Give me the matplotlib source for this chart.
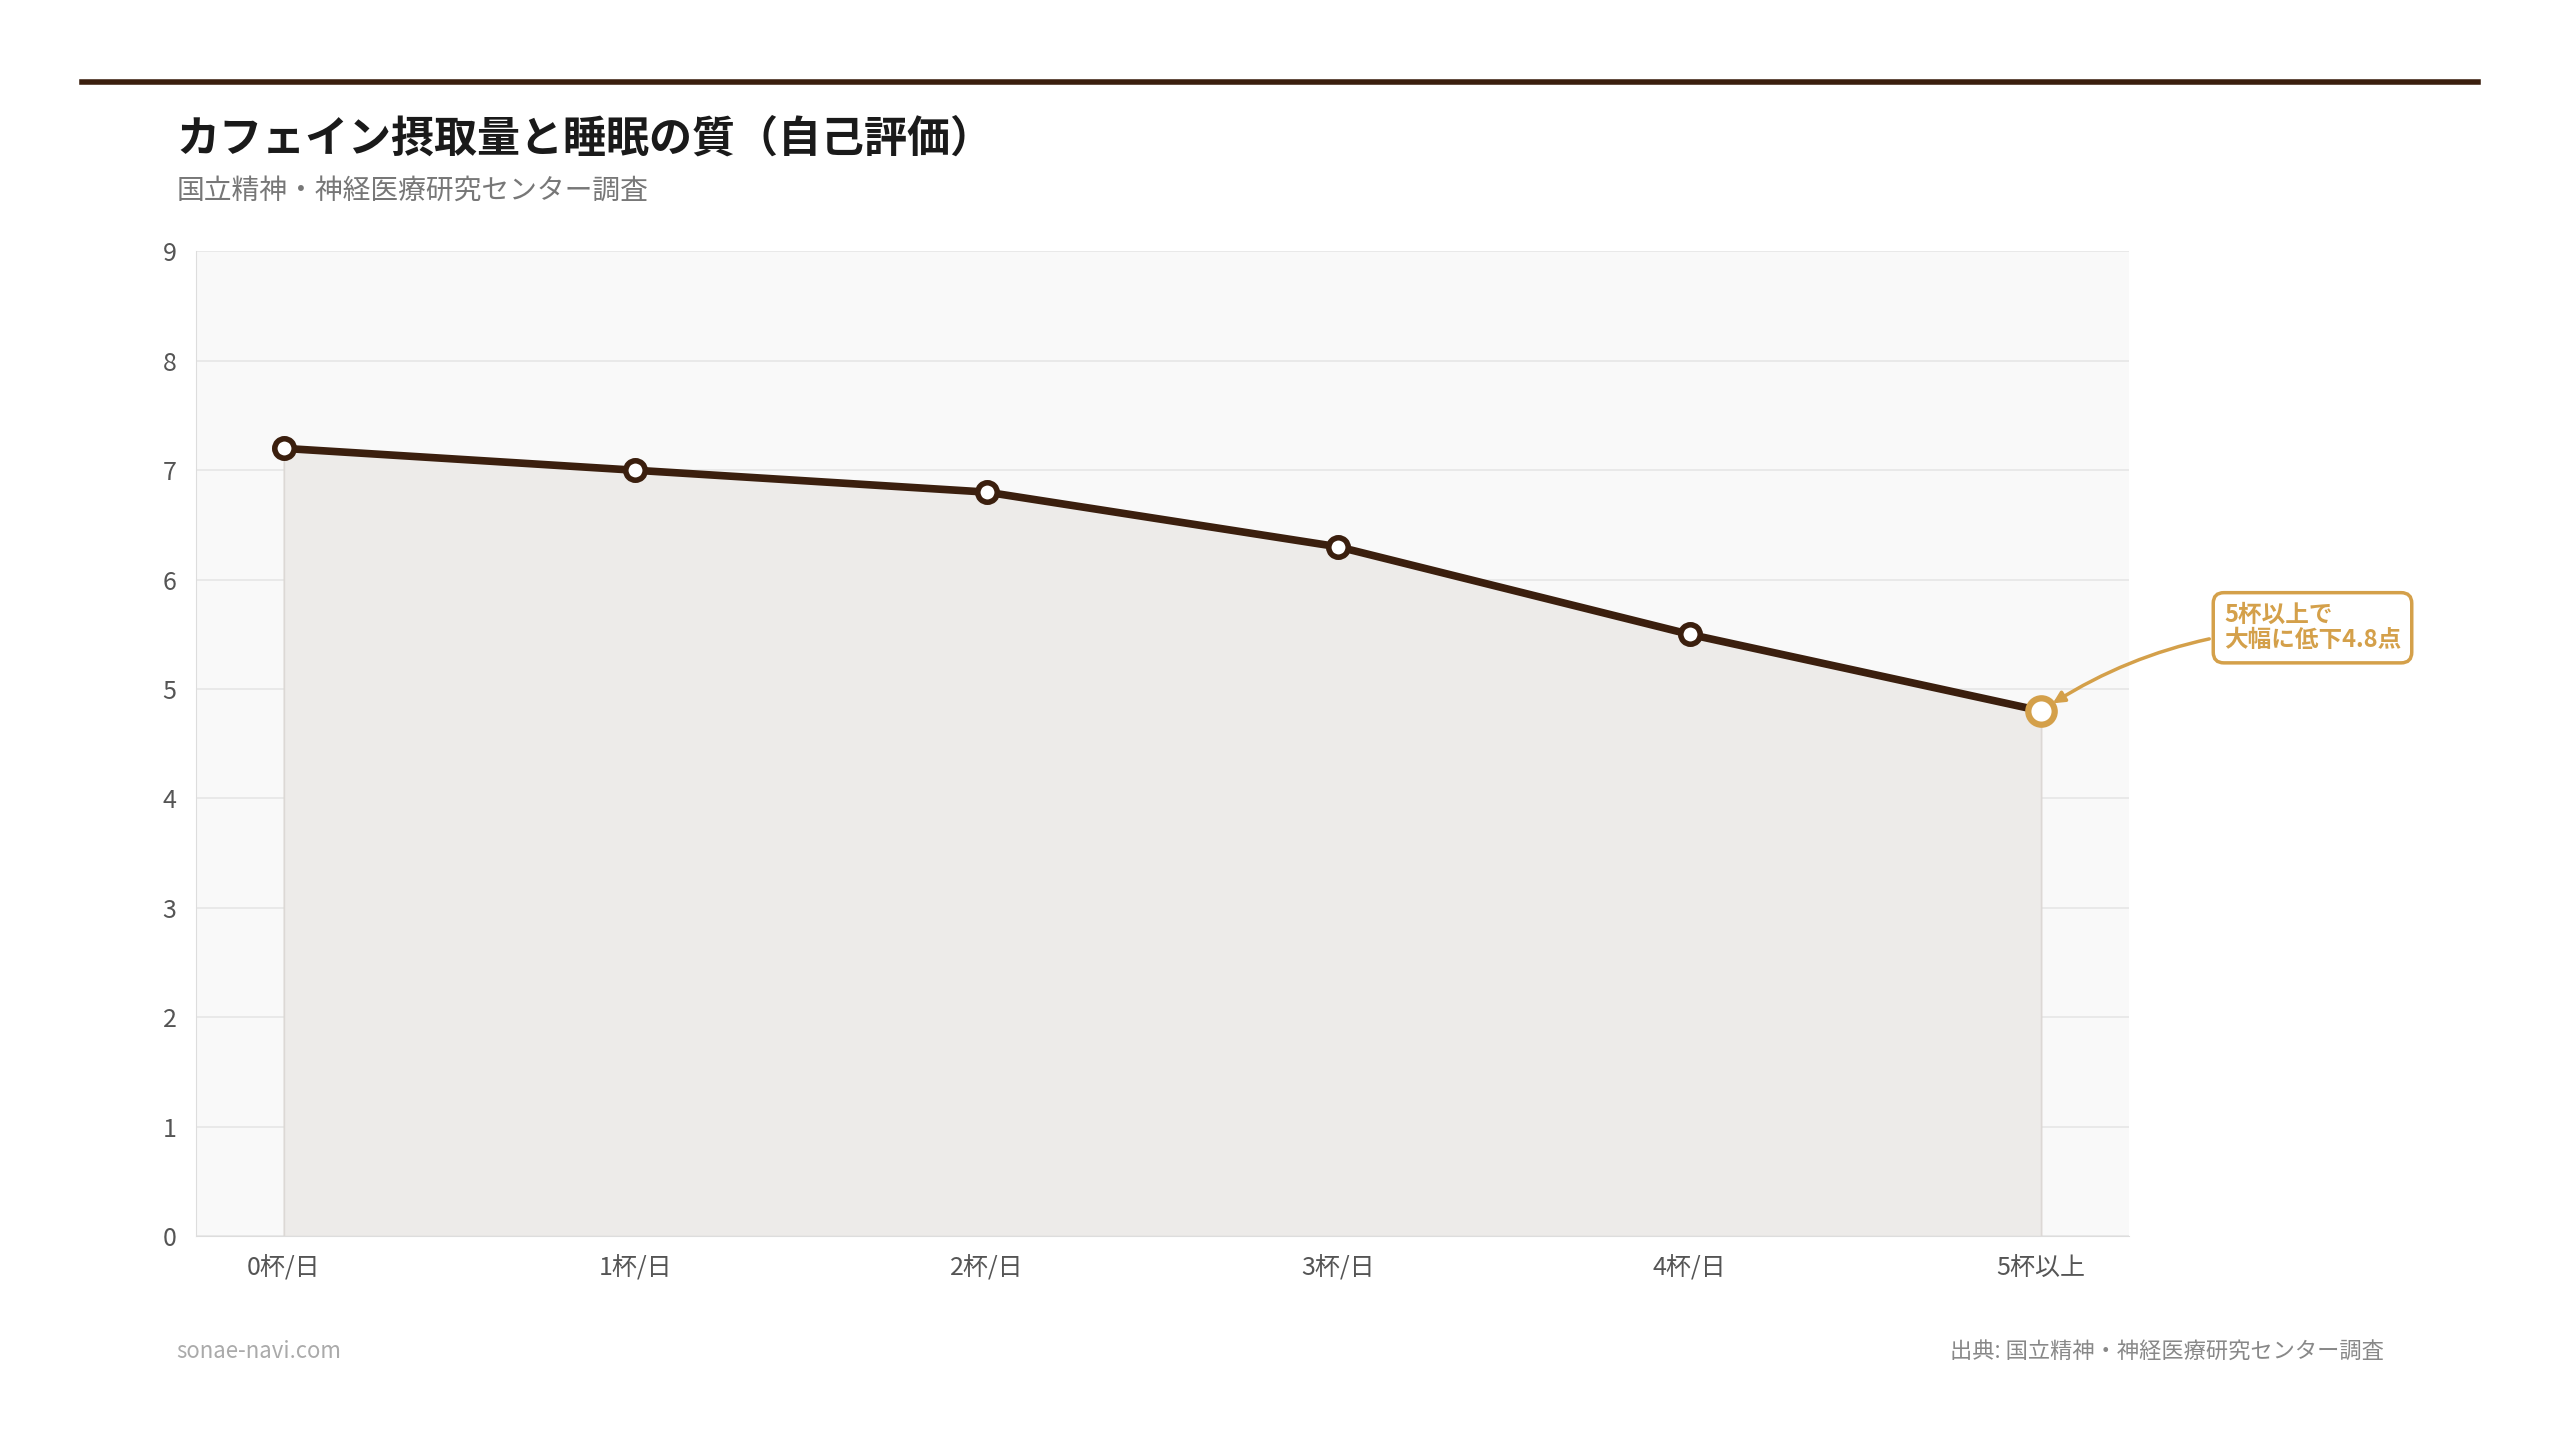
import matplotlib
matplotlib.use("Agg")
import matplotlib.pyplot as plt

plt.rcParams['font.family'] = ['Noto Sans CJK JP', 'DejaVu Sans']

categories = ["0杯/日", "1杯/日", "2杯/日", "3杯/日", "4杯/日", "5杯以上"]
values = [7.2, 7.0, 6.8, 6.3, 5.5, 4.8]
yticks = list(range(0, 10))

DARK = "#3b1f0e"
GOLD = "#d4a04a"

fig = plt.figure(figsize=(25.6, 14.45), dpi=100)
W, H = 1568, 885
def fx(x): return x / W
def fy(y): return 1 - y / H

fig.add_artist(plt.Line2D([fx(50), fx(1518)], [fy(50), fy(50)], color=DARK, lw=4))
fig.text(fx(108), fy(85), "カフェイン摂取量と睡眠の質（自己評価）", fontsize=31, fontweight='bold',
         color="#1a1a1a", va='center')
fig.text(fx(108), fy(117), "国立精神・神経医療研究センター調査", fontsize=20, color="#777777", va='center')
fig.text(fx(108), fy(828), "sonae-navi.com", fontsize=16, color="#aaaaaa", va='center')
fig.text(fx(1460), fy(828), "出典: 国立精神・神経医療研究センター調査", fontsize=16, color="#888888",
         va='center', ha='right')

ax = fig.add_axes([fx(120), fy(757), fx(1304) - fx(120), fy(154) - fy(757)])
ax.set_facecolor("#f9f9f9")
x = list(range(len(categories)))
ax.set_xlim(-0.25, 5.25)
ax.set_ylim(0, 9)
ax.set_yticks(yticks)
ax.set_xticks(x)
ax.set_xticklabels(categories)
ax.grid(axis='y', color="#e6e6e6", lw=1.2)
ax.set_axisbelow(True)
for s in ['top', 'right']:
    ax.spines[s].set_visible(False)
for s in ['left', 'bottom']:
    ax.spines[s].set_color("#dddddd")
ax.tick_params(axis='both', length=0, labelsize=18, colors="#555555", pad=14)

ax.fill_between(x, values, 0, color="#edebe9", edgecolor="#dcd8d5", lw=1, zorder=1)
ax.vlines([x[0], x[-1]], 0, [values[0], values[-1]], color="#dcd8d5", lw=1, zorder=1)
ax.plot(x, values, color=DARK, lw=5.5, zorder=3)
ax.plot(x[:-1], values[:-1], 'o', ms=14, mfc='white', mec=DARK, mew=4, zorder=4)
ax.plot(x[-1], values[-1], 'o', ms=19, mfc='white', mec=GOLD, mew=4.5, zorder=5)

ax.annotate("5杯以上で\n大幅に低下4.8点", xy=(x[-1], values[-1]), xytext=(5.52, 5.56),
            fontsize=17, fontweight='bold', color=GOLD, ha='left', va='center',
            linespacing=1.05, annotation_clip=False,
            bbox=dict(boxstyle="round,pad=0.45", fc="white", ec=GOLD, lw=2.5),
            arrowprops=dict(arrowstyle="-|>", color=GOLD, lw=2.5,
                            connectionstyle="arc3,rad=0.15", shrinkB=10))

fig.savefig("out.png", dpi=100, facecolor="white")
